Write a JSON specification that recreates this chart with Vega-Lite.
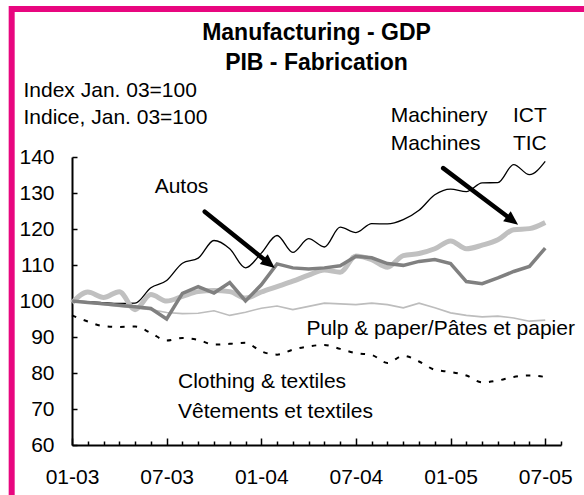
{
  "$schema": "https://vega.github.io/schema/vega-lite/v6.json",
  "width": 489,
  "height": 288,
  "autosize": {"type": "none"},
  "padding": {"left": 72, "top": 157, "right": 23, "bottom": 50},
  "background": "white",
  "config": {"view": {"stroke": null}, "font": "Liberation Sans"},
  "datasets": {
    "series": [
      {"s":"ICT","m":0,"v":100},{"s":"ICT","m":1,"v":99.8},{"s":"ICT","m":2,"v":99.5},{"s":"ICT","m":3,"v":99.3},{"s":"ICT","m":4,"v":99.4},{"s":"ICT","m":5,"v":103.7},{"s":"ICT","m":6,"v":105.7},{"s":"ICT","m":7,"v":110.5},{"s":"ICT","m":8,"v":111.9},{"s":"ICT","m":9,"v":116.8},{"s":"ICT","m":10,"v":114.5},{"s":"ICT","m":11,"v":109.2},{"s":"ICT","m":12,"v":113.3},{"s":"ICT","m":13,"v":118.2},{"s":"ICT","m":14,"v":113.5},{"s":"ICT","m":15,"v":117.3},{"s":"ICT","m":16,"v":115.0},{"s":"ICT","m":17,"v":120.5},{"s":"ICT","m":18,"v":119.0},{"s":"ICT","m":19,"v":121.5},{"s":"ICT","m":20,"v":121.4},{"s":"ICT","m":21,"v":122.6},{"s":"ICT","m":22,"v":125.2},{"s":"ICT","m":23,"v":129.5},{"s":"ICT","m":24,"v":131.1},{"s":"ICT","m":25,"v":130.4},{"s":"ICT","m":26,"v":132.8},{"s":"ICT","m":27,"v":132.9},{"s":"ICT","m":28,"v":137.9},{"s":"ICT","m":29,"v":135.1},{"s":"ICT","m":30,"v":138.8},
      {"s":"Machinery","m":0,"v":99.5},{"s":"Machinery","m":1,"v":102.5},{"s":"Machinery","m":2,"v":101.0},{"s":"Machinery","m":3,"v":102.6},{"s":"Machinery","m":4,"v":97.6},{"s":"Machinery","m":5,"v":101.8},{"s":"Machinery","m":6,"v":100.0},{"s":"Machinery","m":7,"v":101.3},{"s":"Machinery","m":8,"v":102.6},{"s":"Machinery","m":9,"v":102.9},{"s":"Machinery","m":10,"v":102.6},{"s":"Machinery","m":11,"v":100.8},{"s":"Machinery","m":12,"v":102.5},{"s":"Machinery","m":13,"v":104.0},{"s":"Machinery","m":14,"v":105.5},{"s":"Machinery","m":15,"v":107.2},{"s":"Machinery","m":16,"v":108.6},{"s":"Machinery","m":17,"v":108.0},{"s":"Machinery","m":18,"v":112.5},{"s":"Machinery","m":19,"v":111.5},{"s":"Machinery","m":20,"v":109.4},{"s":"Machinery","m":21,"v":112.6},{"s":"Machinery","m":22,"v":113.2},{"s":"Machinery","m":23,"v":114.5},{"s":"Machinery","m":24,"v":116.7},{"s":"Machinery","m":25,"v":114.5},{"s":"Machinery","m":26,"v":115.5},{"s":"Machinery","m":27,"v":117.0},{"s":"Machinery","m":28,"v":119.8},{"s":"Machinery","m":29,"v":120.1},{"s":"Machinery","m":30,"v":121.8},
      {"s":"Autos","m":0,"v":100},{"s":"Autos","m":1,"v":99.6},{"s":"Autos","m":2,"v":99.2},{"s":"Autos","m":3,"v":98.8},{"s":"Autos","m":4,"v":98.4},{"s":"Autos","m":5,"v":97.9},{"s":"Autos","m":6,"v":95.0},{"s":"Autos","m":7,"v":102.1},{"s":"Autos","m":8,"v":104.0},{"s":"Autos","m":9,"v":102.2},{"s":"Autos","m":10,"v":105.1},{"s":"Autos","m":11,"v":100.0},{"s":"Autos","m":12,"v":104.5},{"s":"Autos","m":13,"v":110.3},{"s":"Autos","m":14,"v":109.2},{"s":"Autos","m":15,"v":108.9},{"s":"Autos","m":16,"v":109.2},{"s":"Autos","m":17,"v":109.8},{"s":"Autos","m":18,"v":112.4},{"s":"Autos","m":19,"v":112.0},{"s":"Autos","m":20,"v":110.4},{"s":"Autos","m":21,"v":109.9},{"s":"Autos","m":22,"v":111.0},{"s":"Autos","m":23,"v":111.5},{"s":"Autos","m":24,"v":110.4},{"s":"Autos","m":25,"v":105.4},{"s":"Autos","m":26,"v":104.8},{"s":"Autos","m":27,"v":106.4},{"s":"Autos","m":28,"v":108.2},{"s":"Autos","m":29,"v":109.6},{"s":"Autos","m":30,"v":114.7},
      {"s":"Pulp","m":0,"v":100},{"s":"Pulp","m":1,"v":99.5},{"s":"Pulp","m":2,"v":99.0},{"s":"Pulp","m":3,"v":98.5},{"s":"Pulp","m":4,"v":98.1},{"s":"Pulp","m":5,"v":97.6},{"s":"Pulp","m":6,"v":96.8},{"s":"Pulp","m":7,"v":96.5},{"s":"Pulp","m":8,"v":96.6},{"s":"Pulp","m":9,"v":97.3},{"s":"Pulp","m":10,"v":96.0},{"s":"Pulp","m":11,"v":96.9},{"s":"Pulp","m":12,"v":98.0},{"s":"Pulp","m":13,"v":98.6},{"s":"Pulp","m":14,"v":97.6},{"s":"Pulp","m":15,"v":98.5},{"s":"Pulp","m":16,"v":99.4},{"s":"Pulp","m":17,"v":99.2},{"s":"Pulp","m":18,"v":99.0},{"s":"Pulp","m":19,"v":99.4},{"s":"Pulp","m":20,"v":99.0},{"s":"Pulp","m":21,"v":98.1},{"s":"Pulp","m":22,"v":99.4},{"s":"Pulp","m":23,"v":98.1},{"s":"Pulp","m":24,"v":96.7},{"s":"Pulp","m":25,"v":96.0},{"s":"Pulp","m":26,"v":95.6},{"s":"Pulp","m":27,"v":95.8},{"s":"Pulp","m":28,"v":95.3},{"s":"Pulp","m":29,"v":94.4},{"s":"Pulp","m":30,"v":94.7},
      {"s":"Clothing","m":0,"v":96.0},{"s":"Clothing","m":1,"v":94.3},{"s":"Clothing","m":2,"v":93.0},{"s":"Clothing","m":3,"v":92.8},{"s":"Clothing","m":4,"v":92.9},{"s":"Clothing","m":5,"v":91.1},{"s":"Clothing","m":6,"v":89.0},{"s":"Clothing","m":7,"v":89.7},{"s":"Clothing","m":8,"v":89.2},{"s":"Clothing","m":9,"v":87.9},{"s":"Clothing","m":10,"v":88.1},{"s":"Clothing","m":11,"v":88.4},{"s":"Clothing","m":12,"v":86.0},{"s":"Clothing","m":13,"v":85.1},{"s":"Clothing","m":14,"v":86.5},{"s":"Clothing","m":15,"v":87.4},{"s":"Clothing","m":16,"v":87.8},{"s":"Clothing","m":17,"v":86.7},{"s":"Clothing","m":18,"v":85.5},{"s":"Clothing","m":19,"v":85.0},{"s":"Clothing","m":20,"v":82.8},{"s":"Clothing","m":21,"v":84.8},{"s":"Clothing","m":22,"v":83.2},{"s":"Clothing","m":23,"v":80.9},{"s":"Clothing","m":24,"v":80.3},{"s":"Clothing","m":25,"v":79.3},{"s":"Clothing","m":26,"v":77.4},{"s":"Clothing","m":27,"v":77.9},{"s":"Clothing","m":28,"v":78.9},{"s":"Clothing","m":29,"v":79.3},{"s":"Clothing","m":30,"v":78.9}
    ],
    "titles": [
      {"label":"Manufacturing - GDP","m":15.5,"v":172.4},
      {"label":"PIB - Fabrication","m":15.5,"v":164.3}
    ],
    "labels": [
      {"label":"Autos","m":5.24,"v":130.1},
      {"label":"Machinery","m":20.2,"v":149.8},
      {"label":"ICT","m":27.95,"v":149.8},
      {"label":"Machines","m":20.2,"v":142.0},
      {"label":"TIC","m":27.95,"v":142.0},
      {"label":"Pulp & paper/Pâtes et papier","m":14.86,"v":90.6},
      {"label":"Clothing & textiles","m":6.72,"v":75.9},
      {"label":"Vêtements et textiles","m":6.72,"v":67.6}
    ],
    "arrows": [
      {"a":"autos","m":8.415,"v":124.8,"m2":12.36,"v2":110.9,"tm":12.85,"tv":109.2},
      {"a":"mach","m":23.53,"v":136.9,"m2":27.77,"v2":122.9,"tm":28.28,"tv":121.2}
    ],
    "frame": [
      {"m":-3.824,"v":181.1,"m2":33.5,"v2":42.0}
    ]
  },
  "encoding": {
    "x": {
      "field": "m", "type": "quantitative",
      "scale": {"domain": [0, 31], "nice": false, "zero": false},
      "axis": {
        "title": null,
        "grid": false,
        "values": [0,1,2,3,4,5,6,7,8,9,10,11,12,13,14,15,16,17,18,19,20,21,22,23,24,25,26,27,28,29,30,31],
        "labelExpr": "datum.value % 12 == 0 ? '01-0' + (3 + datum.value / 12) : (datum.value % 12 == 6 ? '07-0' + (3 + (datum.value - 6) / 12) : '')",
        "tickSize": {"condition": {"test": "datum.value % 6 == 0", "value": -7}, "value": -4},
        "tickColor": "black", "tickWidth": 1.5,
        "domainColor": "black", "domainWidth": 2,
        "labelFont": "Liberation Sans", "labelFontSize": 21, "labelColor": "black",
        "labelPadding": 28, "labelFlush": false, "labelOverlap": false
      }
    },
    "y": {
      "field": "v", "type": "quantitative",
      "scale": {"domain": [60, 140], "nice": false, "zero": false},
      "axis": {
        "grid": false,
        "values": [60,70,80,90,100,110,120,130,140],
        "tickSize": -5, "tickColor": "black", "tickWidth": 1.5,
        "domainColor": "black", "domainWidth": 2,
        "labelFont": "Liberation Sans", "labelFontSize": 21, "labelColor": "black",
        "labelPadding": 23,
        "title": ["Index Jan. 03=100", "Indice, Jan. 03=100"],
        "titleAngle": 0, "titleAlign": "left", "titleBaseline": "alphabetic",
        "titleX": -49, "titleY": -61,
        "titleFont": "Liberation Sans", "titleFontSize": 21, "titleFontWeight": "normal",
        "titleColor": "black", "titleLineHeight": 27
      }
    }
  },
  "layer": [
    {
      "data": {"name": "frame"},
      "mark": {"type": "rect", "fillOpacity": 0, "stroke": "#E8067F", "strokeWidth": 6},
      "encoding": {"x2": {"field": "m2"}, "y2": {"field": "v2"}}
    },
    {
      "data": {"name": "series"},
      "transform": [{"filter": "datum.s == 'Clothing'"}],
      "mark": {"type": "line", "color": "black", "strokeWidth": 2, "strokeDash": [4.5, 8], "interpolate": "monotone"}
    },
    {
      "data": {"name": "series"},
      "transform": [{"filter": "datum.s == 'Pulp'"}],
      "mark": {"type": "line", "color": "#BDBDBD", "strokeWidth": 1.6}
    },
    {
      "data": {"name": "series"},
      "transform": [{"filter": "datum.s == 'ICT'"}],
      "mark": {"type": "line", "color": "black", "strokeWidth": 1.3, "interpolate": "monotone"}
    },
    {
      "data": {"name": "series"},
      "transform": [{"filter": "datum.s == 'Machinery'"}],
      "mark": {"type": "line", "color": "#C0C0C0", "strokeWidth": 5, "interpolate": "monotone"}
    },
    {
      "data": {"name": "series"},
      "transform": [{"filter": "datum.s == 'Autos'"}],
      "mark": {"type": "line", "color": "#808080", "strokeWidth": 3.5}
    },
    {
      "data": {"name": "arrows"},
      "mark": {"type": "rule", "color": "black", "strokeWidth": 4.5, "strokeCap": "round"},
      "encoding": {"x2": {"field": "m2"}, "y2": {"field": "v2"}}
    },
    {
      "data": {"name": "arrows"},
      "transform": [{"filter": "datum.a == 'autos'"}],
      "mark": {"type": "point", "shape": "M0,0L-0.45,1L0.45,1Z", "size": 784, "filled": true, "color": "black", "opacity": 1, "angle": 128.8},
      "encoding": {"x": {"field": "tm", "type": "quantitative"}, "y": {"field": "tv", "type": "quantitative"}}
    },
    {
      "data": {"name": "arrows"},
      "transform": [{"filter": "datum.a == 'mach'"}],
      "mark": {"type": "point", "shape": "M0,0L-0.45,1L0.45,1Z", "size": 784, "filled": true, "color": "black", "opacity": 1, "angle": 127.1},
      "encoding": {"x": {"field": "tm", "type": "quantitative"}, "y": {"field": "tv", "type": "quantitative"}}
    },
    {
      "data": {"name": "labels"},
      "mark": {"type": "text", "font": "Liberation Sans", "fontSize": 21, "color": "black", "align": "left", "baseline": "alphabetic"},
      "encoding": {"text": {"field": "label"}}
    },
    {
      "data": {"name": "titles"},
      "mark": {"type": "text", "font": "Liberation Sans", "fontSize": 23, "fontWeight": "bold", "color": "black", "align": "center", "baseline": "alphabetic"},
      "encoding": {"text": {"field": "label"}}
    }
  ]
}
